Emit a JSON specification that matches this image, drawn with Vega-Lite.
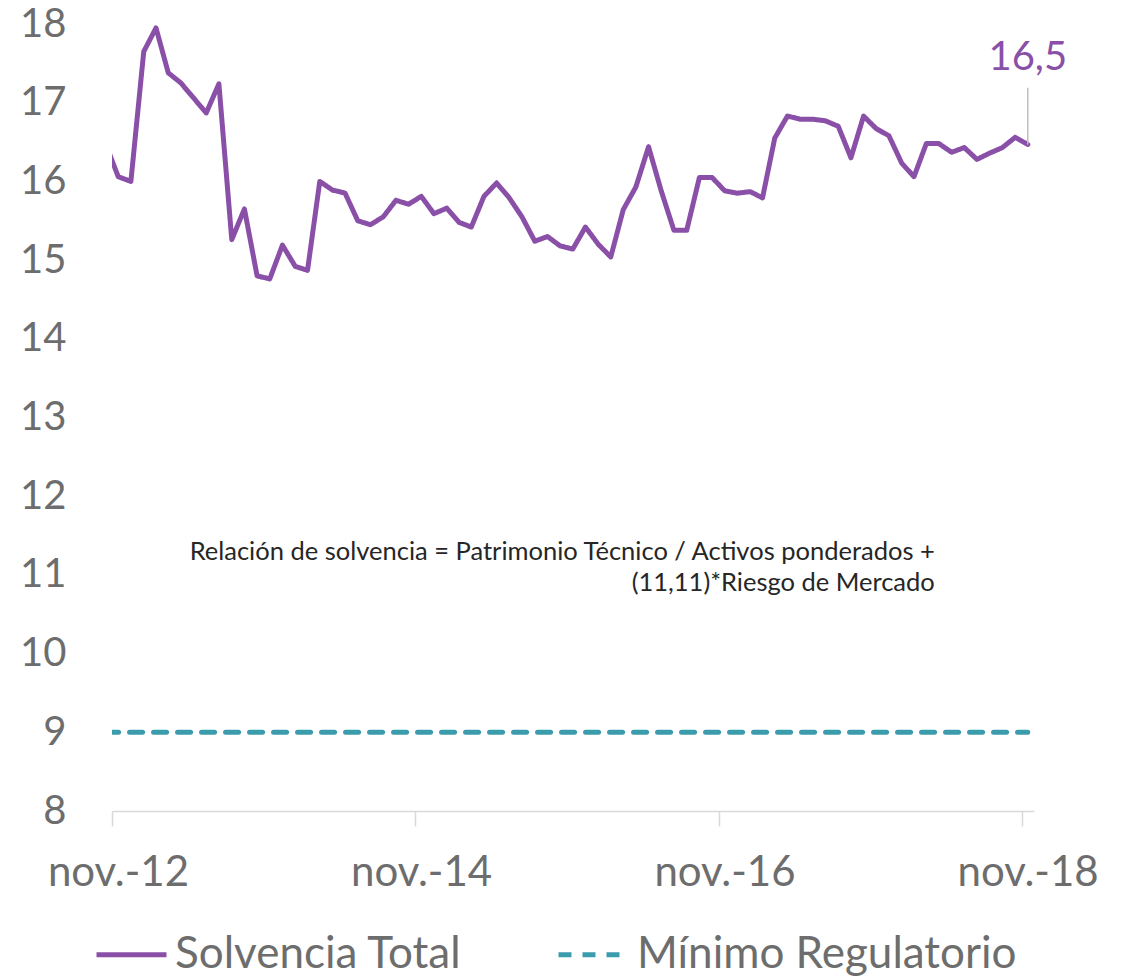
{
  "$schema": "https://vega.github.io/schema/vega-lite/v6.json",
  "width": 922,
  "height": 787,
  "autosize": {"type": "none"},
  "padding": {"left": 112, "top": 24, "right": 95, "bottom": 167},
  "background": "white",
  "config": {"view": {"stroke": null}, "font": "Lato"},
  "data": {"values": [
    {"fecha": "2012-10-01", "Solvencia Total": 16.48, "Mínimo Regulatorio": 9},
    {"fecha": "2012-11-01", "Solvencia Total": 16.06, "Mínimo Regulatorio": 9},
    {"fecha": "2012-12-01", "Solvencia Total": 16.00, "Mínimo Regulatorio": 9},
    {"fecha": "2013-01-01", "Solvencia Total": 17.65, "Mínimo Regulatorio": 9},
    {"fecha": "2013-02-01", "Solvencia Total": 17.95, "Mínimo Regulatorio": 9},
    {"fecha": "2013-03-01", "Solvencia Total": 17.38, "Mínimo Regulatorio": 9},
    {"fecha": "2013-04-01", "Solvencia Total": 17.25, "Mínimo Regulatorio": 9},
    {"fecha": "2013-05-01", "Solvencia Total": 17.06, "Mínimo Regulatorio": 9},
    {"fecha": "2013-06-01", "Solvencia Total": 16.87, "Mínimo Regulatorio": 9},
    {"fecha": "2013-07-01", "Solvencia Total": 17.24, "Mínimo Regulatorio": 9},
    {"fecha": "2013-08-01", "Solvencia Total": 15.26, "Mínimo Regulatorio": 9},
    {"fecha": "2013-09-01", "Solvencia Total": 15.65, "Mínimo Regulatorio": 9},
    {"fecha": "2013-10-01", "Solvencia Total": 14.80, "Mínimo Regulatorio": 9},
    {"fecha": "2013-11-01", "Solvencia Total": 14.76, "Mínimo Regulatorio": 9},
    {"fecha": "2013-12-01", "Solvencia Total": 15.19, "Mínimo Regulatorio": 9},
    {"fecha": "2014-01-01", "Solvencia Total": 14.92, "Mínimo Regulatorio": 9},
    {"fecha": "2014-02-01", "Solvencia Total": 14.87, "Mínimo Regulatorio": 9},
    {"fecha": "2014-03-01", "Solvencia Total": 16.00, "Mínimo Regulatorio": 9},
    {"fecha": "2014-04-01", "Solvencia Total": 15.89, "Mínimo Regulatorio": 9},
    {"fecha": "2014-05-01", "Solvencia Total": 15.85, "Mínimo Regulatorio": 9},
    {"fecha": "2014-06-01", "Solvencia Total": 15.50, "Mínimo Regulatorio": 9},
    {"fecha": "2014-07-01", "Solvencia Total": 15.45, "Mínimo Regulatorio": 9},
    {"fecha": "2014-08-01", "Solvencia Total": 15.55, "Mínimo Regulatorio": 9},
    {"fecha": "2014-09-01", "Solvencia Total": 15.76, "Mínimo Regulatorio": 9},
    {"fecha": "2014-10-01", "Solvencia Total": 15.71, "Mínimo Regulatorio": 9},
    {"fecha": "2014-11-01", "Solvencia Total": 15.81, "Mínimo Regulatorio": 9},
    {"fecha": "2014-12-01", "Solvencia Total": 15.59, "Mínimo Regulatorio": 9},
    {"fecha": "2015-01-01", "Solvencia Total": 15.66, "Mínimo Regulatorio": 9},
    {"fecha": "2015-02-01", "Solvencia Total": 15.48, "Mínimo Regulatorio": 9},
    {"fecha": "2015-03-01", "Solvencia Total": 15.42, "Mínimo Regulatorio": 9},
    {"fecha": "2015-04-01", "Solvencia Total": 15.81, "Mínimo Regulatorio": 9},
    {"fecha": "2015-05-01", "Solvencia Total": 15.98, "Mínimo Regulatorio": 9},
    {"fecha": "2015-06-01", "Solvencia Total": 15.79, "Mínimo Regulatorio": 9},
    {"fecha": "2015-07-01", "Solvencia Total": 15.55, "Mínimo Regulatorio": 9},
    {"fecha": "2015-08-01", "Solvencia Total": 15.24, "Mínimo Regulatorio": 9},
    {"fecha": "2015-09-01", "Solvencia Total": 15.30, "Mínimo Regulatorio": 9},
    {"fecha": "2015-10-01", "Solvencia Total": 15.18, "Mínimo Regulatorio": 9},
    {"fecha": "2015-11-01", "Solvencia Total": 15.14, "Mínimo Regulatorio": 9},
    {"fecha": "2015-12-01", "Solvencia Total": 15.42, "Mínimo Regulatorio": 9},
    {"fecha": "2016-01-01", "Solvencia Total": 15.20, "Mínimo Regulatorio": 9},
    {"fecha": "2016-02-01", "Solvencia Total": 15.04, "Mínimo Regulatorio": 9},
    {"fecha": "2016-03-01", "Solvencia Total": 15.64, "Mínimo Regulatorio": 9},
    {"fecha": "2016-04-01", "Solvencia Total": 15.93, "Mínimo Regulatorio": 9},
    {"fecha": "2016-05-01", "Solvencia Total": 16.44, "Mínimo Regulatorio": 9},
    {"fecha": "2016-06-01", "Solvencia Total": 15.88, "Mínimo Regulatorio": 9},
    {"fecha": "2016-07-01", "Solvencia Total": 15.38, "Mínimo Regulatorio": 9},
    {"fecha": "2016-08-01", "Solvencia Total": 15.38, "Mínimo Regulatorio": 9},
    {"fecha": "2016-09-01", "Solvencia Total": 16.05, "Mínimo Regulatorio": 9},
    {"fecha": "2016-10-01", "Solvencia Total": 16.05, "Mínimo Regulatorio": 9},
    {"fecha": "2016-11-01", "Solvencia Total": 15.88, "Mínimo Regulatorio": 9},
    {"fecha": "2016-12-01", "Solvencia Total": 15.85, "Mínimo Regulatorio": 9},
    {"fecha": "2017-01-01", "Solvencia Total": 15.87, "Mínimo Regulatorio": 9},
    {"fecha": "2017-02-01", "Solvencia Total": 15.79, "Mínimo Regulatorio": 9},
    {"fecha": "2017-03-01", "Solvencia Total": 16.55, "Mínimo Regulatorio": 9},
    {"fecha": "2017-04-01", "Solvencia Total": 16.83, "Mínimo Regulatorio": 9},
    {"fecha": "2017-05-01", "Solvencia Total": 16.79, "Mínimo Regulatorio": 9},
    {"fecha": "2017-06-01", "Solvencia Total": 16.79, "Mínimo Regulatorio": 9},
    {"fecha": "2017-07-01", "Solvencia Total": 16.77, "Mínimo Regulatorio": 9},
    {"fecha": "2017-08-01", "Solvencia Total": 16.70, "Mínimo Regulatorio": 9},
    {"fecha": "2017-09-01", "Solvencia Total": 16.30, "Mínimo Regulatorio": 9},
    {"fecha": "2017-10-01", "Solvencia Total": 16.83, "Mínimo Regulatorio": 9},
    {"fecha": "2017-11-01", "Solvencia Total": 16.67, "Mínimo Regulatorio": 9},
    {"fecha": "2017-12-01", "Solvencia Total": 16.58, "Mínimo Regulatorio": 9},
    {"fecha": "2018-01-01", "Solvencia Total": 16.23, "Mínimo Regulatorio": 9},
    {"fecha": "2018-02-01", "Solvencia Total": 16.06, "Mínimo Regulatorio": 9},
    {"fecha": "2018-03-01", "Solvencia Total": 16.48, "Mínimo Regulatorio": 9},
    {"fecha": "2018-04-01", "Solvencia Total": 16.48, "Mínimo Regulatorio": 9},
    {"fecha": "2018-05-01", "Solvencia Total": 16.37, "Mínimo Regulatorio": 9},
    {"fecha": "2018-06-01", "Solvencia Total": 16.43, "Mínimo Regulatorio": 9},
    {"fecha": "2018-07-01", "Solvencia Total": 16.28, "Mínimo Regulatorio": 9},
    {"fecha": "2018-08-01", "Solvencia Total": 16.36, "Mínimo Regulatorio": 9},
    {"fecha": "2018-09-01", "Solvencia Total": 16.43, "Mínimo Regulatorio": 9},
    {"fecha": "2018-10-01", "Solvencia Total": 16.56, "Mínimo Regulatorio": 9},
    {"fecha": "2018-11-01", "Solvencia Total": 16.47, "Mínimo Regulatorio": 9}
  ]},
  "layer": [
    {
      "transform": [{"fold": ["Solvencia Total", "Mínimo Regulatorio"], "as": ["serie", "valor"]}],
      "mark": {"type": "line", "clip": true, "strokeWidth": 5, "strokeCap": "round", "strokeJoin": "round"},
      "encoding": {
        "x": {
          "field": "fecha", "type": "temporal", "timeUnit": "utcyearmonth", "bandPosition": 0.5,
          "scale": {"type": "utc", "domain": [{"year": 2012, "month": 11, "date": 1, "utc": true}, {"year": 2018, "month": 12, "date": 1, "utc": true}]},
          "axis": {
            "title": null,
            "values": [
              {"year": 2012, "month": 11, "date": 1, "utc": true},
              {"year": 2014, "month": 11, "date": 1, "utc": true},
              {"year": 2016, "month": 11, "date": 1, "utc": true},
              {"year": 2018, "month": 11, "date": 1, "utc": true}
            ],
            "labelExpr": "'nov.-' + utcFormat(datum.value, '%y')",
            "labelOffset": 6,
            "labelFontSize": 42,
            "labelColor": "#6d6d6d",
            "labelPadding": 26,
            "labelFlush": false,
            "labelOverlap": false,
            "tickSize": 15,
            "tickColor": "#d9d9d9",
            "tickWidth": 1.5,
            "domainColor": "#d9d9d9",
            "domainWidth": 1.5,
            "grid": false
          }
        },
        "y": {
          "field": "valor", "type": "quantitative",
          "scale": {"domain": [8, 18], "zero": false, "nice": false},
          "axis": {
            "title": null,
            "values": [8, 9, 10, 11, 12, 13, 14, 15, 16, 17, 18],
            "format": "d",
            "ticks": false,
            "domain": false,
            "grid": false,
            "labelFontSize": 40,
            "labelColor": "#6d6d6d",
            "labelPadding": 46
          }
        },
        "color": {
          "field": "serie", "type": "nominal",
          "scale": {"domain": ["Solvencia Total", "Mínimo Regulatorio"], "range": ["#8A50A8", "#3A9CAD"]},
          "legend": {
            "title": null, "orient": "none", "legendX": -18, "legendY": 893, "direction": "horizontal",
            "symbolType": "stroke", "symbolSize": 4900, "symbolStrokeWidth": 5,
            "labelFontSize": 44, "labelColor": "#6d6d6d", "columnPadding": 86, "labelOffset": 6, "labelLimit": 600
          }
        },
        "strokeDash": {
          "field": "serie", "type": "nominal",
          "scale": {"domain": ["Solvencia Total", "Mínimo Regulatorio"], "range": [[1, 0], [13, 11]]},
          "legend": {
            "title": null, "orient": "none", "legendX": -18, "legendY": 893, "direction": "horizontal",
            "symbolType": "stroke", "symbolSize": 4900, "symbolStrokeWidth": 5,
            "labelFontSize": 44, "labelColor": "#6d6d6d", "columnPadding": 86, "labelOffset": 6, "labelLimit": 600
          }
        }
      }
    },
    {
      "data": {"values": [{"fecha": "2018-11-01", "valor": 16.47}]},
      "mark": {"type": "rule", "color": "#bfbfbf", "strokeWidth": 1.5},
      "encoding": {
        "x": {"field": "fecha", "type": "temporal", "timeUnit": "utcyearmonth", "bandPosition": 0.5},
        "y": {"field": "valor", "type": "quantitative"},
        "y2": {"datum": 17.19}
      }
    },
    {
      "data": {"values": [{"fecha": "2018-11-01", "etiqueta": "16,5"}]},
      "mark": {"type": "text", "color": "#8A50A8", "fontSize": 40, "align": "center", "baseline": "alphabetic"},
      "encoding": {
        "x": {"field": "fecha", "type": "temporal", "timeUnit": "utcyearmonth", "bandPosition": 0.5},
        "y": {"datum": 17.41, "type": "quantitative"},
        "text": {"field": "etiqueta"}
      }
    },
    {
      "data": {"values": [{"nota": "Relación de solvencia"}]},
      "mark": {"type": "text", "color": "#262626", "fontSize": 25.5, "align": "right", "baseline": "alphabetic", "lineHeight": 31},
      "encoding": {
        "x": {"datum": {"year": 2018, "month": 4, "date": 6, "utc": true}, "type": "temporal"},
        "y": {"datum": 11.19, "type": "quantitative"},
        "text": {"value": ["Relación de solvencia = Patrimonio Técnico / Activos ponderados +", "(11,11)*Riesgo de Mercado"]}
      }
    }
  ]
}
